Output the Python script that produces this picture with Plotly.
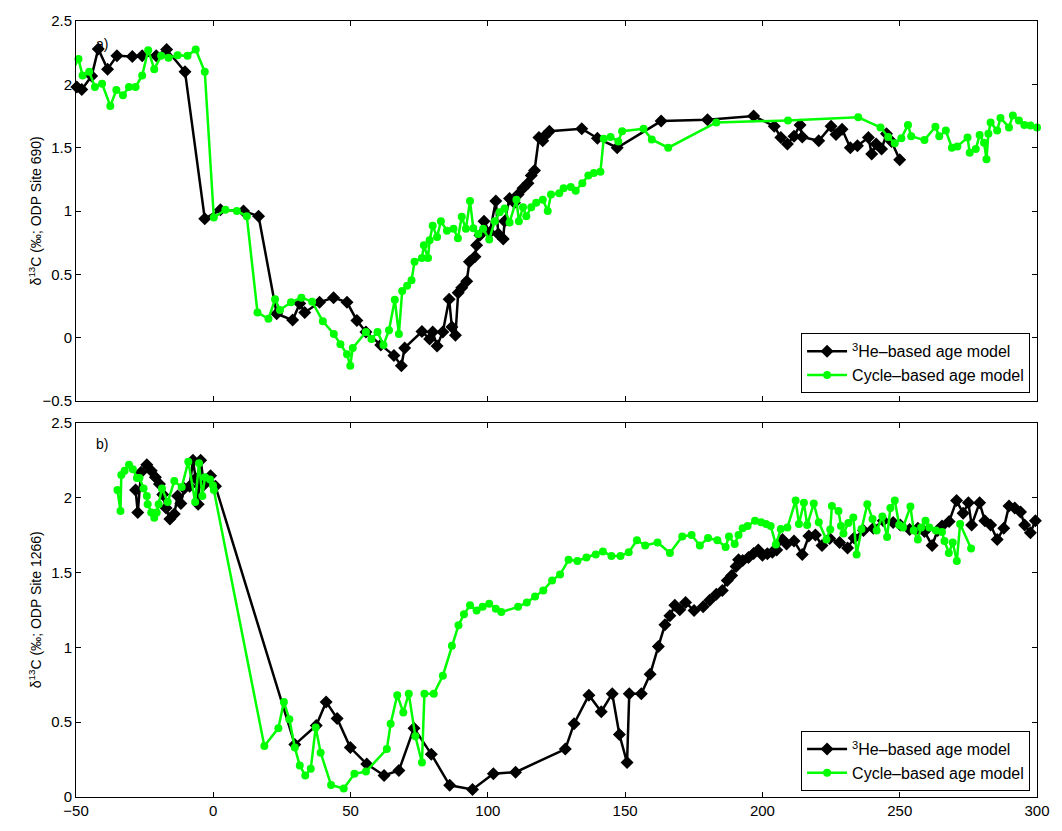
import plotly.graph_objects as go

# ---------------- Panel a) ODP Site 690 ----------------
he690_age = [-49.7, -47.9, -44.3, -41.9, -38.5, -35.1, -29.5, -25.9, -20.8, -17.0, -10.3, -3.1, 2.6, 11.0, 16.5,
             23.1, 28.9, 31.5, 33.3, 38.7, 43.8, 48.7, 52.3, 55.6, 61.0, 65.8, 68.5, 69.7, 76.0, 78.8, 79.9, 81.5,
             83.6, 85.9, 86.9, 88.2, 89.2, 90.5, 92.3, 93.3, 95.3, 95.9, 97.1, 98.6, 100.7, 102.9, 103.8, 105.6,
             106.1, 107.9, 109.7, 111.0, 112.8, 114.6, 115.8, 117.0, 118.6, 120.0, 120.6, 122.4, 134.2, 139.9,
             147.1, 163.1, 180.0, 196.8, 204.3, 206.7, 209.1, 211.5, 213.7, 214.5, 220.5, 225.0, 226.8, 229.0,
             232.0, 234.6, 238.6, 239.8, 241.4, 243.4, 245.2, 247.0, 250.0]
he690_d13c = [1.98, 1.96, 2.065, 2.28, 2.12, 2.225, 2.22, 2.225, 2.225, 2.275, 2.10, 0.94, 1.01, 1.0, 0.96,
              0.19, 0.14, 0.27, 0.20, 0.28, 0.317, 0.28, 0.137, 0.046, -0.056, -0.14, -0.22, -0.08, 0.05, -0.01,
              0.046, -0.064, 0.046, 0.305, 0.085, 0.02, 0.356, 0.395, 0.446, 0.60, 0.64, 0.73, 0.81, 0.92, 0.83,
              1.08, 0.82, 0.78, 0.92, 1.10, 1.065, 1.13, 1.18, 1.22, 1.28, 1.32, 1.58, 1.555, 1.59, 1.63, 1.65,
              1.575, 1.50, 1.71, 1.72, 1.75, 1.67, 1.58, 1.53, 1.59, 1.68, 1.585, 1.555, 1.67, 1.605, 1.645,
              1.50, 1.515, 1.58, 1.45, 1.53, 1.49, 1.61, 1.55, 1.405]

cyc690_age = [-50.3, -49.1, -47.6, -45.2, -43.1, -40.5, -37.5, -35.3, -32.9, -30.7, -28.3, -25.9, -23.7, -21.5,
              -19.0, -16.3, -13.0, -9.4, -6.4, -3.1, 0.2, 4.4, 8.6, 12.2, 16.1, 20.1, 22.5, 24.3, 28.3, 32.1,
              36.0, 39.9, 43.9, 46.3, 48.7, 49.9, 50.8, 55.6, 57.6, 59.8, 62.0, 64.0, 66.1, 67.6, 68.8, 70.6,
              72.2, 73.3, 76.0, 76.7, 78.2, 78.8, 79.9, 81.5, 82.9, 85.1, 87.5, 89.1, 90.5, 92.0, 93.5, 94.7,
              96.5, 98.3, 100.5, 102.5, 104.3, 106.1, 107.9, 110.4, 111.3, 112.8, 114.0, 115.8, 117.6, 120.0,
              121.8, 123.0, 126.0, 127.6, 130.2, 132.0, 134.4, 136.6, 138.6, 141.0, 142.2, 144.7, 147.5, 148.9,
              156.7, 159.7, 165.7, 183.2, 209.3, 234.9, 243.0, 245.8, 248.2, 250.6, 253.0, 254.2, 259.0, 263.0,
              264.4, 266.8, 269.0, 271.0, 274.7, 275.5, 277.7, 279.1, 280.7, 281.6, 282.3, 283.1, 285.5, 286.7,
              289.8, 291.2, 293.4, 295.4, 297.6, 300.0]
cyc690_d13c = [2.15, 2.20, 2.07, 2.10, 1.98, 2.005, 1.83, 1.955, 1.915, 1.98, 1.98, 2.07, 2.27, 2.12, 2.225,
               2.21, 2.23, 2.225, 2.275, 2.10, 0.95, 1.01, 1.0, 0.96, 0.20, 0.15, 0.305, 0.22, 0.28, 0.317,
               0.285, 0.13, 0.03, -0.05, -0.13, -0.22, -0.08, 0.046, -0.01, 0.046, -0.056, 0.06, 0.30, 0.03,
               0.37, 0.41, 0.455, 0.60, 0.63, 0.73, 0.63, 0.77, 0.885, 0.795, 0.92, 0.845, 0.86, 0.786, 0.955,
               0.86, 1.08, 0.865, 0.82, 0.86, 0.775, 0.92, 0.99, 1.02, 0.91, 1.09, 0.92, 1.03, 0.96, 1.03,
               1.065, 1.09, 1.0, 1.13, 1.14, 1.18, 1.19, 1.16, 1.22, 1.28, 1.30, 1.31, 1.57, 1.585, 1.55, 1.63,
               1.65, 1.565, 1.50, 1.70, 1.715, 1.74, 1.66, 1.585, 1.535, 1.575, 1.68, 1.59, 1.56, 1.665, 1.59,
               1.635, 1.50, 1.51, 1.58, 1.46, 1.49, 1.60, 1.54, 1.41, 1.61, 1.70, 1.635, 1.735, 1.66, 1.755,
               1.715, 1.68, 1.675, 1.66]

# ---------------- Panel b) ODP Site 1266 ----------------
he1266_age = [-28.3, -27.5, -26.3, -24.2, -22.6, -21.1, -19.6, -18.4, -17.2, -15.8, -14.2, -13.0, -11.8, -10.6,
              -8.6, -7.4, -6.4, -5.5, -4.6, -3.4, -2.2, -1.0, 0.8, 29.7, 37.5, 41.1, 45.1, 49.9, 55.9, 62.2,
              67.6, 73.1, 79.4, 86.1, 94.4, 102.0, 110.1, 128.2, 131.4, 136.8, 141.3, 145.3, 147.9, 150.7,
              151.5, 155.9, 159.1, 162.1, 164.5, 166.3, 168.1, 169.9, 172.0, 175.1, 178.4, 180.8, 183.2, 185.4,
              187.2, 188.8, 190.4, 191.3, 192.8, 194.9, 196.8, 198.5, 200.0, 201.8, 203.6, 205.2, 207.3, 208.8,
              211.5, 214.5, 216.9, 219.3, 221.7, 224.5, 228.1, 231.0, 233.4, 236.8, 240.4, 244.0, 247.6, 250.2,
              253.6, 256.6, 259.0, 261.8, 263.8, 265.4, 268.0, 270.7, 273.1, 275.0, 276.2, 279.1, 281.0, 283.1,
              285.5, 287.9, 289.8, 291.9, 294.0, 295.5, 297.6, 299.4]
he1266_d13c = [2.05, 1.90, 2.17, 2.22, 2.18, 2.135, 2.09, 2.02, 1.93, 1.857, 1.89, 2.01, 1.96, 2.06, 2.075,
               2.25, 2.127, 1.955, 2.25, 2.085, 2.12, 2.145, 2.075, 0.35, 0.478, 0.635, 0.525, 0.33, 0.22,
               0.144, 0.177, 0.46, 0.286, 0.078, 0.05, 0.155, 0.166, 0.32, 0.49, 0.68, 0.57, 0.69, 0.417, 0.23,
               0.69, 0.69, 0.82, 1.006, 1.15, 1.21, 1.28, 1.25, 1.30, 1.245, 1.27, 1.315, 1.355, 1.38, 1.446,
               1.48, 1.54, 1.584, 1.58, 1.60, 1.627, 1.65, 1.615, 1.625, 1.634, 1.65, 1.72, 1.69, 1.71, 1.62,
               1.743, 1.75, 1.68, 1.726, 1.70, 1.664, 1.73, 1.78, 1.795, 1.845, 1.834, 1.817, 1.787, 1.795,
               1.773, 1.68, 1.78, 1.81, 1.84, 1.98, 1.896, 1.965, 1.817, 1.965, 1.845, 1.817, 1.72, 1.795,
               1.944, 1.93, 1.904, 1.817, 1.765, 1.845]

cyc1266_age = [-34.9, -33.8, -33.5, -32.3, -30.7, -29.3, -27.8, -26.9, -25.4, -24.2, -23.9, -22.6, -21.5, -20.6,
               -19.9, -18.7, -16.6, -14.2, -11.5, -9.1, -6.6, -5.2, -4.0, -3.0, -1.2, -0.1, 0.2, 18.6, 23.7,
               25.7, 27.7, 29.7, 31.5, 33.5, 35.5, 37.3, 39.1, 42.9, 47.5, 51.4, 55.6, 63.2, 64.6, 67.0, 69.2,
               71.2, 73.6, 76.0, 76.9, 80.3, 83.6, 86.9, 89.3, 91.3, 93.5, 95.9, 98.1, 100.5, 102.9, 104.9,
               111.0, 114.2, 117.2, 120.2, 123.4, 126.3, 129.4, 132.6, 135.9, 139.3, 141.9, 145.0, 148.3, 151.3,
               154.3, 157.3, 161.8, 166.3, 170.8, 174.2, 177.2, 180.2, 183.6, 186.6, 187.8, 189.9, 191.3, 192.8,
               194.6, 197.3, 199.5, 201.3, 203.0, 204.9, 206.7, 209.1, 212.1, 213.3, 215.1, 216.3, 218.7, 220.5,
               223.3, 224.7, 225.3, 227.7, 228.6, 229.5, 231.3, 233.1, 234.3, 236.1, 238.2, 240.1, 241.6, 243.7,
               245.4, 246.6, 248.2, 249.8, 251.2, 253.9, 255.1, 256.6, 257.8, 259.4, 260.8, 263.2, 265.4, 266.3,
               267.9, 269.3, 270.8, 272.0, 276.0]
cyc1266_d13c = [2.05, 1.91, 2.15, 2.18, 2.22, 2.19, 2.13, 2.13, 2.06, 2.01, 1.955, 1.90, 1.865, 1.90, 1.955,
                2.06, 1.97, 2.11, 2.07, 2.24, 1.97, 2.23, 2.01, 2.135, 2.12, 2.08, 2.05, 0.34, 0.46, 0.635,
                0.52, 0.33, 0.21, 0.144, 0.188, 0.465, 0.296, 0.08, 0.057, 0.155, 0.17, 0.32, 0.49, 0.68, 0.565,
                0.69, 0.405, 0.23, 0.69, 0.69, 0.81, 1.01, 1.147, 1.22, 1.28, 1.245, 1.27, 1.29, 1.257, 1.235,
                1.27, 1.30, 1.34, 1.38, 1.446, 1.486, 1.584, 1.577, 1.60, 1.62, 1.64, 1.61, 1.61, 1.634, 1.715,
                1.68, 1.70, 1.63, 1.74, 1.75, 1.68, 1.73, 1.715, 1.67, 1.74, 1.69, 1.75, 1.795, 1.81, 1.845,
                1.835, 1.824, 1.81, 1.686, 1.79, 1.80, 1.98, 1.824, 1.965, 1.816, 1.96, 1.835, 1.72, 1.787,
                1.944, 1.91, 1.81, 1.76, 1.83, 1.867, 1.62, 1.79, 1.955, 1.857, 1.78, 1.874, 1.736, 1.93, 1.98,
                1.817, 1.80, 1.94, 1.78, 1.72, 1.80, 1.845, 1.80, 1.78, 1.77, 1.71, 1.63, 1.70, 1.577, 1.824,
                1.66]

x_ticks = [-50, 0, 50, 100, 150, 200, 250, 300]
he_name = "<sup>3</sup>He\u2013based age model"
cyc_name = "Cycle\u2013based age model"
title_690 = "\u03b4<sup>13</sup>C (\u2030; ODP Site 690)"
title_1266 = "\u03b4<sup>13</sup>C (\u2030; ODP Site 1266)"
BLACK = "#000000"
GREEN = "#00FF00"
FONT = "Liberation Sans, Arial, Helvetica, sans-serif"

fig = go.Figure()

def add_pair(he_x, he_y, cy_x, cy_y, xa, ya, legend):
    fig.add_trace(go.Scatter(x=he_x, y=he_y, name=he_name, mode="lines+markers",
                             line=dict(color=BLACK, width=2.5),
                             marker=dict(symbol="diamond", size=10, color=BLACK),
                             xaxis=xa, yaxis=ya, legend=legend, cliponaxis=False))
    fig.add_trace(go.Scatter(x=cy_x, y=cy_y, name=cyc_name, mode="lines+markers",
                             line=dict(color=GREEN, width=2.5),
                             marker=dict(symbol="circle", size=8, color=GREEN),
                             xaxis=xa, yaxis=ya, legend=legend, cliponaxis=False))

add_pair(he690_age, he690_d13c, cyc690_age, cyc690_d13c, "x", "y", "legend")
add_pair(he1266_age, he1266_d13c, cyc1266_age, cyc1266_d13c, "x2", "y2", "legend2")

axis_common = dict(showline=True, linecolor="black", linewidth=1, mirror="ticks",
                   ticks="inside", ticklen=5, tickcolor="black", tickwidth=1,
                   showgrid=False, zeroline=False,
                   tickfont=dict(family=FONT, size=15, color="black"))

top_dom = [(807 - 403) / 792, 1.0]
bot_dom = [0.0, (807 - 425) / 792]

legend_common = dict(bgcolor="white", bordercolor="black", borderwidth=1,
                     font=dict(family=FONT, size=16, color="black"),
                     xanchor="right", yanchor="bottom", x=0.9928,
                     tracegroupgap=0, itemwidth=40)

fig.update_layout(
    width=1062, height=831,
    margin=dict(l=76, r=17, t=15, b=24),
    paper_bgcolor="white", plot_bgcolor="white",
    font=dict(family=FONT, size=14, color="black"),
    xaxis=dict(domain=[0, 1], anchor="y", range=[-50, 300], tickvals=x_ticks,
               showticklabels=False, **axis_common),
    yaxis=dict(domain=top_dom, anchor="x", range=[-0.5, 2.5], dtick=0.5, **axis_common),
    xaxis2=dict(domain=[0, 1], anchor="y2", range=[-50, 300], tickvals=x_ticks, **axis_common),
    yaxis2=dict(domain=bot_dom, anchor="x2", range=[0, 2.5], dtick=0.5, **axis_common),
    legend=dict(y=(807 - 395) / 792, **legend_common),
    legend2=dict(y=(807 - 801) / 792, **legend_common),
    annotations=[
        dict(text=title_690, x=(35 - 76) / 969, y=(807 - 209) / 792, xref="paper", yref="paper",
             showarrow=False, textangle=-90, xanchor="center", yanchor="middle",
             font=dict(family=FONT, size=14)),
        dict(text=title_1266, x=(35 - 76) / 969, y=(807 - 616) / 792, xref="paper", yref="paper",
             showarrow=False, textangle=-90, xanchor="center", yanchor="middle",
             font=dict(family=FONT, size=14)),
        dict(text="a)", x=-43.5, y=2.32, xref="x", yref="y", showarrow=False,
             xanchor="left", yanchor="middle", font=dict(family=FONT, size=14)),
        dict(text="b)", x=-43.5, y=2.36, xref="x2", yref="y2", showarrow=False,
             xanchor="left", yanchor="middle", font=dict(family=FONT, size=14)),
    ],
)

fig.write_html("out.html")
